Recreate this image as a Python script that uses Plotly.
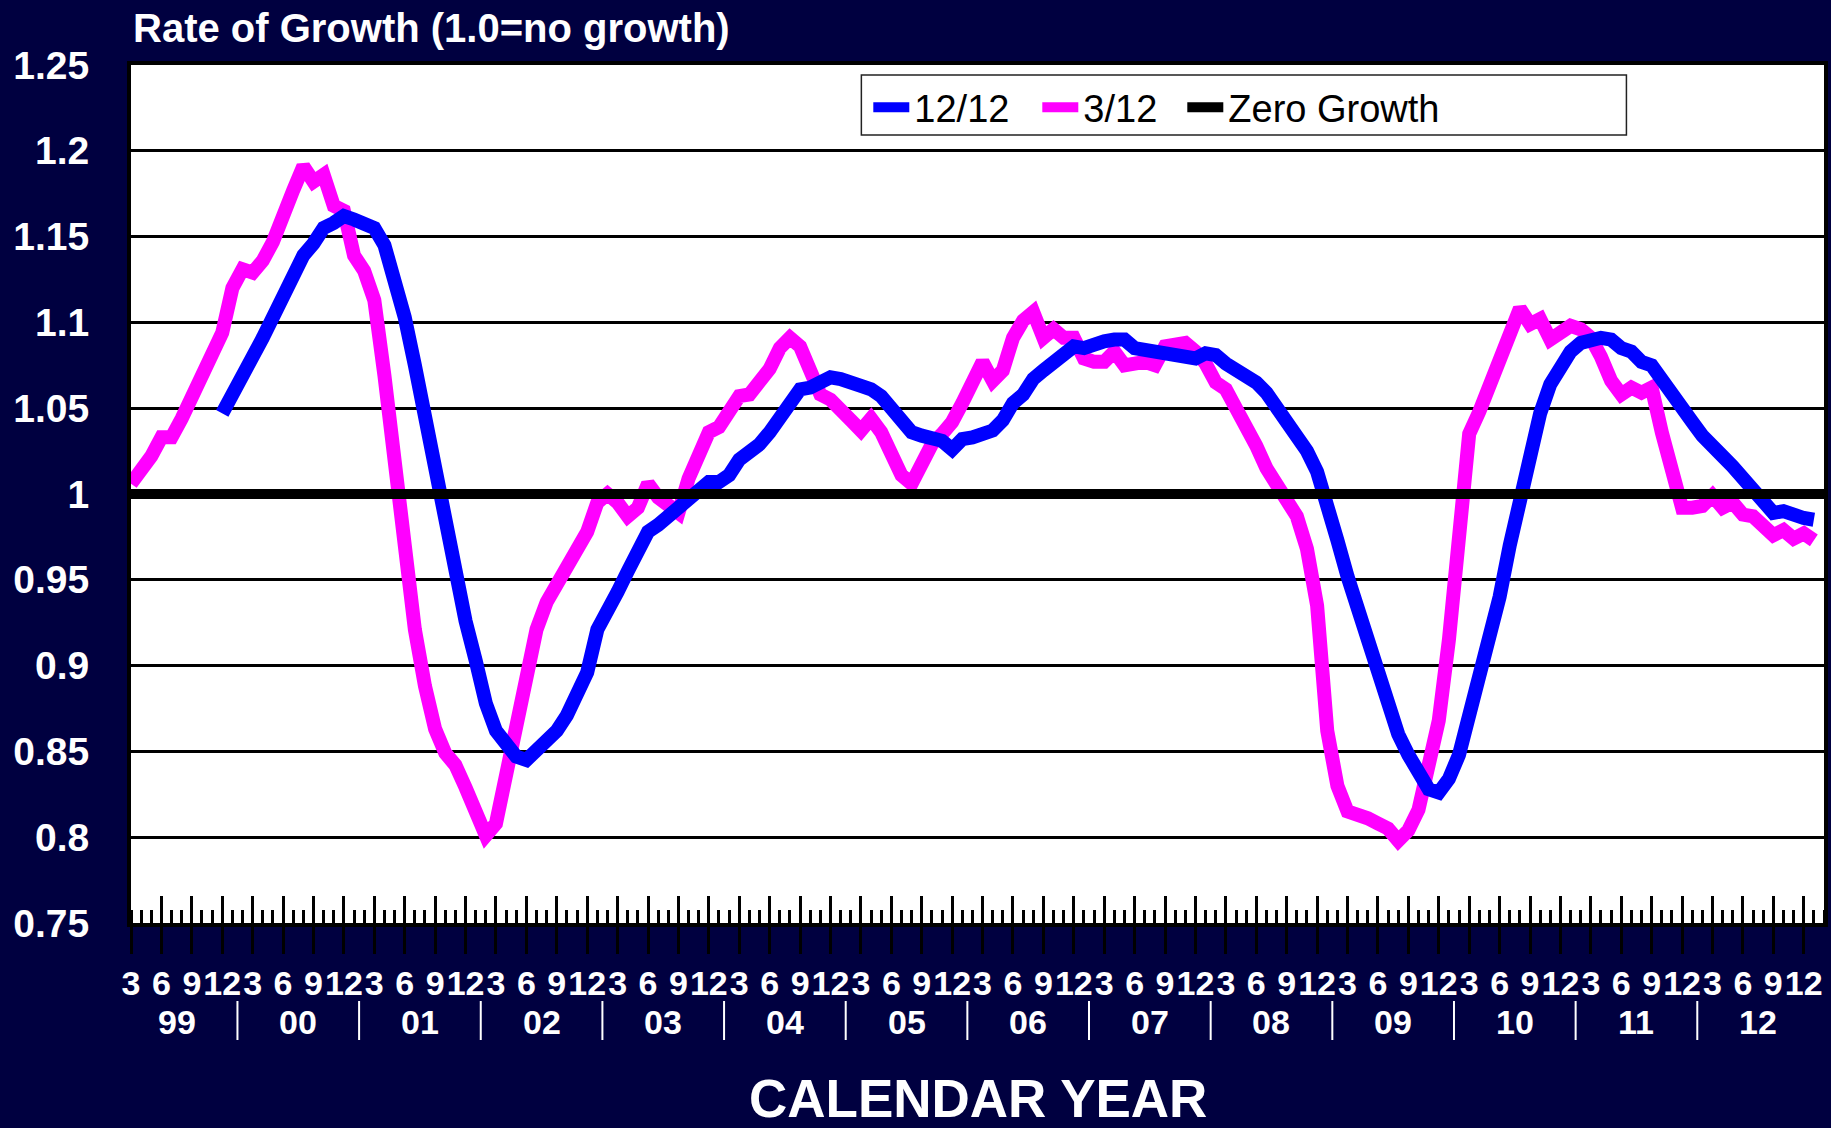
import plotly.graph_objects as go

# ---------------- data ----------------
YEARS = ["99", "00", "01", "02", "03", "04", "05", "06", "07", "08", "09", "10", "11", "12"]
QUARTER_MONTHS = [3, 6, 9, 12]
# monthly observations: 3/99 .. 1/13
MONTHS = [f"{m}/{y}" for y in YEARS + ["13"] for m in range(1, 13)][2:169]

RATE_3_12 = [
    1.006, 1.013, 1.022, 1.033, 1.033, 1.044, 1.057, 1.066, 1.083, 1.094,
    1.120, 1.131, 1.129, 1.136, 1.147, 1.165, 1.177, 1.191, 1.182, 1.186,
    1.168, 1.165, 1.139, 1.130, 1.113, 1.069, 1.014, 0.962, 0.921, 0.888,
    0.863, 0.849, 0.842, 0.829, 0.816, 0.801, 0.808, 0.835, 0.866, 0.898,
    0.921, 0.937, 0.948, 0.955, 0.970, 0.978, 0.995, 1.000, 0.995, 0.987,
    0.992, 1.006, 0.998, 0.994, 0.989, 1.009, 1.022, 1.036, 1.039, 1.050,
    1.057, 1.058, 1.066, 1.073, 1.085, 1.091, 1.086, 1.069, 1.058, 1.055,
    1.050, 1.043, 1.037, 1.044, 1.036, 1.022, 1.011, 1.006, 1.020, 1.029,
    1.035, 1.042, 1.053, 1.066, 1.077, 1.066, 1.072, 1.091, 1.101, 1.106,
    1.091, 1.096, 1.091, 1.091, 1.079, 1.077, 1.077, 1.083, 1.075, 1.076,
    1.077, 1.075, 1.086, 1.087, 1.088, 1.083, 1.076, 1.065, 1.061, 1.050,
    1.040, 1.028, 1.015, 1.005, 0.996, 0.987, 0.968, 0.935, 0.862, 0.830,
    0.815, 0.814, 0.811, 0.808, 0.805, 0.798, 0.804, 0.816, 0.847, 0.868,
    0.915, 0.972, 1.035, 1.048, 1.062, 1.078, 1.090, 1.108, 1.099, 1.102,
    1.090, 1.094, 1.098, 1.096, 1.091, 1.080, 1.066, 1.058, 1.062, 1.059,
    1.062, 1.036, 1.011, 0.992, 0.992, 0.993, 0.999, 0.992, 0.995, 0.988,
    0.987, 0.981, 0.976, 0.979, 0.974, 0.977, 0.973,
]

RATE_12_12 = [None] * 9 + [
    1.047, 1.057, 1.068, 1.080, 1.091, 1.103, 1.113, 1.127, 1.139, 1.146,
    1.155, 1.158, 1.162, 1.160, 1.158, 1.155, 1.145, 1.127, 1.103, 1.075,
    1.044, 1.014, 0.984, 0.954, 0.926, 0.903, 0.878, 0.862, 0.853, 0.847,
    0.845, 0.851, 0.855, 0.862, 0.871, 0.884, 0.896, 0.921, 0.934, 0.943,
    0.955, 0.967, 0.978, 0.982, 0.987, 0.992, 0.998, 1.003, 1.007, 1.007,
    1.011, 1.020, 1.024, 1.029, 1.036, 1.044, 1.054, 1.061, 1.062, 1.066,
    1.068, 1.067, 1.066, 1.063, 1.061, 1.057, 1.050, 1.042, 1.036, 1.034,
    1.033, 1.031, 1.026, 1.032, 1.033, 1.036, 1.037, 1.043, 1.053, 1.058,
    1.067, 1.072, 1.076, 1.082, 1.086, 1.085, 1.088, 1.089, 1.090, 1.090,
    1.085, 1.084, 1.083, 1.081, 1.081, 1.081, 1.079, 1.082, 1.081, 1.076,
    1.073, 1.069, 1.065, 1.059, 1.051, 1.043, 1.036, 1.025, 1.013, 0.995,
    0.973, 0.952, 0.933, 0.914, 0.895, 0.875, 0.860, 0.848, 0.836, 0.828,
    0.826, 0.834, 0.848, 0.872, 0.890, 0.912, 0.940, 0.970, 0.999, 1.022,
    1.047, 1.064, 1.075, 1.083, 1.088, 1.090, 1.091, 1.090, 1.085, 1.083,
    1.077, 1.075, 1.066, 1.058, 1.051, 1.042, 1.034, 1.029, 1.022, 1.016,
    1.009, 1.003, 0.995, 0.989, 0.990, 0.987, 0.986, 0.985,
]

ZERO_GROWTH = 1.0

Y_TICKS = [0.75, 0.80, 0.85, 0.90, 0.95, 1.00, 1.05, 1.10, 1.15, 1.20, 1.25]
Y_TICK_TEXT = ["0.75", "0.8", "0.85", "0.9", "0.95", "1", "1.05", "1.1", "1.15", "1.2", "1.25"]

# ---------------- derived axis helpers ----------------
x = list(range(len(MONTHS)))
month_num = [int(s.split("/")[0]) for s in MONTHS]
month_year = [s.split("/")[1] for s in MONTHS]
q_pos = [i for i in x if month_num[i] in QUARTER_MONTHS]
q_text = [str(month_num[i]) for i in q_pos]

year_center = {}
for yr in YEARS:
    ps = [i for i in q_pos if month_year[i] == yr]
    year_center[yr] = (min(ps) + max(ps)) / 2.0
separators = []
for a, b in zip(YEARS[:-1], YEARS[1:]):
    last_q = max(i for i in q_pos if month_year[i] == a)
    first_q = min(i for i in q_pos if month_year[i] == b)
    separators.append((last_q + first_q) / 2.0)

FONT = "Liberation Sans, Arial, sans-serif"
NAVY = "#000040"
X_END = len(MONTHS)

fig = go.Figure()
fig.add_trace(go.Scatter(x=x, y=RATE_3_12, name="3/12", mode="lines", legendrank=2,
                         line=dict(color="#FF00FF", width=14), legendwidth=94))
fig.add_trace(go.Scatter(x=x, y=RATE_12_12, name="12/12", mode="lines", legendrank=1,
                         line=dict(color="#0000FF", width=14), legendwidth=118))
fig.add_trace(go.Scatter(x=[0, X_END], y=[ZERO_GROWTH, ZERO_GROWTH], name="Zero Growth",
                         mode="lines", legendrank=3,
                         line=dict(color="black", width=10), xaxis="x2"))

annotations = [
    dict(text="Rate of Growth (1.0=no growth)", xref="paper", yref="paper", x=0, y=1.0431,
         xanchor="left", yanchor="middle", showarrow=False,
         font=dict(family=FONT, size=40, color="white", weight="bold")),
    dict(text="CALENDAR YEAR", xref="paper", yref="paper", x=0.5, y=-0.2045,
         xanchor="center", yanchor="middle", showarrow=False,
         font=dict(family=FONT, size=53, color="white", weight="bold")),
]
for yr in YEARS:
    annotations.append(dict(text=yr, xref="x", yref="paper", x=year_center[yr], y=-0.1154,
                            xanchor="center", yanchor="middle", showarrow=False,
                            font=dict(family=FONT, size=34, color="white", weight="bold")))

shapes = []
for s in separators:
    shapes.append(dict(type="line", xref="x", yref="paper", x0=s, x1=s, y0=-0.0909, y1=-0.1364,
                       line=dict(color="white", width=2)))
# legend frame
shapes.append(dict(type="rect", xref="paper", yref="paper", x0=0.4314, x1=0.8833,
                   y0=0.9184, y1=0.9883, fillcolor="white", line=dict(color="#222222", width=1.5),
                   layer="above"))

fig.update_layout(
    width=1831, height=1128,
    margin=dict(l=131, r=3, t=65, b=205),
    paper_bgcolor=NAVY, plot_bgcolor="white",
    font=dict(family=FONT, color="white"),
    showlegend=True,
    legend=dict(orientation="h", x=0.4355, y=0.9872, xanchor="left", yanchor="top",
                bgcolor="rgba(0,0,0,0)", borderwidth=0, itemwidth=36,
                font=dict(family=FONT, size=38, color="black")),
    xaxis=dict(range=[0, X_END], tickmode="array", tickvals=q_pos, ticktext=q_text,
               ticks="outside", ticklen=27, tickwidth=3, tickcolor="black",
               tickfont=dict(family=FONT, size=34, color="white", weight="bold"),
               ticklabelstandoff=0,
               showgrid=False, zeroline=False, showline=True, linecolor="black",
               linewidth=4, mirror=True,
               minor=dict(ticks="inside", tickmode="linear", tick0=0, dtick=1, ticklen=13,
                          tickwidth=3, tickcolor="black", showgrid=False)),
    xaxis2=dict(overlaying="x", range=[0, X_END], anchor="y", side="bottom",
                tickmode="array", tickvals=q_pos, ticks="inside", ticklen=27, tickwidth=3,
                tickcolor="black", showticklabels=False, showgrid=False, zeroline=False,
                showline=False),
    yaxis=dict(range=[0.75, 1.25], tickmode="array", tickvals=Y_TICKS, ticktext=Y_TICK_TEXT,
               showgrid=True, gridcolor="black", gridwidth=2.5, zeroline=False,
               showline=True, linecolor="black", linewidth=4, mirror=True, ticks="",
               ticklabelstandoff=30,
               tickfont=dict(family=FONT, size=39, color="white", weight="bold")),
    annotations=annotations,
    shapes=shapes,
)

fig.write_html("out.html", config={"displayModeBar": False},
               post_script="document.body.style.margin='0';")
